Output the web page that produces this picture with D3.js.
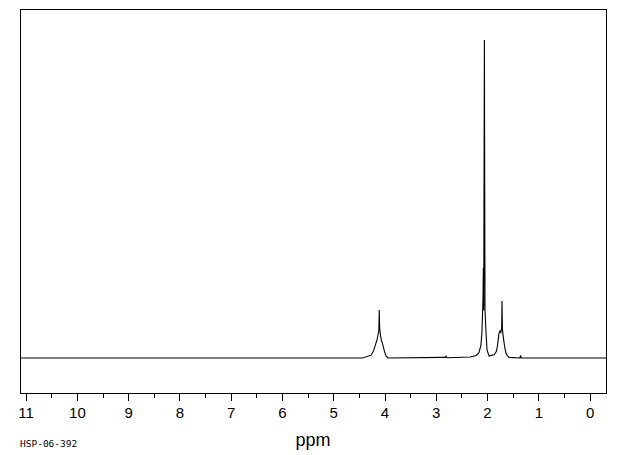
<!DOCTYPE html>
<html>
<head>
<meta charset="utf-8">
<script src="https://cdn.jsdelivr.net/npm/d3@7"></script>
<style>
  html, body { margin: 0; padding: 0; background: #fff; }
  svg { display: block; }
</style>
</head>
<body>
<svg id="chart" width="620" height="455"></svg>
<script>
// ---- data (ppm, relative intensity) ----
const ppmValues = [
  11.10, 4.42, 4.36, 4.25, 4.20, 4.16, 4.14, 4.12, 4.10, 4.093, 4.085, 4.07, 4.05, 4.03, 3.99, 3.96, 3.92,
  2.85, 2.80, 2.79, 2.77, 2.32, 2.20, 2.15, 2.11, 2.09, 2.07, 2.062, 2.055, 2.042, 2.03, 2.01, 1.99, 1.95,
  1.89, 1.85, 1.81, 1.79, 1.77, 1.76, 1.74, 1.72, 1.705, 1.698, 1.69, 1.68, 1.66, 1.64, 1.62, 1.60, 1.56,
  1.35, 1.335, 1.325, -0.33
];
const intensityValues = [
  0, 0, 0.3, 0.9, 2.4, 4.5, 5.5, 7.0, 8.8, 15.1, 9.4, 7.2, 5.5, 4.6, 2.0, 0.6, 0,
  0.2, 0.2, 0.6, 0.1, 0.3, 0.8, 1.6, 4.0, 8.0, 18.0, 28.3, 15.0, 100, 15.0, 8.0, 2.5, 0.6,
  0.9, 1.0, 2.0, 3.5, 6.0, 7.5, 8.5, 8.0, 9.5, 17.9, 9.0, 7.5, 5.0, 3.0, 1.5, 0.8, 0.2,
  0, 0.8, 0, 0
];
const majorTicks = [11, 10, 9, 8, 7, 6, 5, 4, 3, 2, 1, 0];
const minorTicks = [10.5, 9.5, 8.5, 7.5, 6.5, 5.5, 4.5, 3.5, 2.5, 1.5, 0.5];
const axisTitle = "ppm";
const sampleId = "HSP-06-392";

// ---- layout ----
const frame = { left: 20, top: 9, right: 606, bottom: 393 };
const svg = d3.select("#chart");

const x = d3.scaleLinear().domain([11.10, -0.33]).range([frame.left, frame.right]);
const y = d3.scaleLinear().domain([-11.0, 109.75]).range([frame.bottom, frame.top]);

const points = ppmValues.map((p, i) => ({ ppm: p, v: intensityValues[i] }));

// frame
svg.append("rect")
  .attr("x", frame.left + 0.5).attr("y", frame.top + 0.5)
  .attr("width", frame.right - frame.left).attr("height", frame.bottom - frame.top)
  .attr("fill", "none").attr("stroke", "#000").attr("stroke-width", 1)
  .attr("shape-rendering", "crispEdges");

// spectrum
const line = d3.line().x(d => x(d.ppm)).y(d => y(d.v));
svg.append("path")
  .datum(points)
  .attr("d", line)
  .attr("fill", "none")
  .attr("stroke", "#000")
  .attr("stroke-width", 1.1)
  .attr("stroke-linejoin", "miter");

// axes
const axisG = svg.append("g").attr("transform", `translate(0.5,${frame.bottom + 0.5})`);
const major = d3.axisBottom(x).tickValues(majorTicks).tickSize(7).tickPadding(7).tickFormat(d3.format("d"));
axisG.call(major);
axisG.select(".domain").remove();
axisG.selectAll(".tick line").attr("stroke", "#000").attr("shape-rendering", "crispEdges");
axisG.selectAll(".tick text")
  .attr("font-family", "'Liberation Sans', Arial, sans-serif")
  .attr("font-size", 15)
  .attr("fill", "#000");

const minorG = svg.append("g").attr("transform", `translate(0.5,${frame.bottom + 0.5})`);
minorG.call(d3.axisBottom(x).tickValues(minorTicks).tickSize(4).tickFormat(""));
minorG.select(".domain").remove();
minorG.selectAll(".tick line").attr("stroke", "#000").attr("shape-rendering", "crispEdges");

// titles
svg.append("text")
  .attr("x", 313).attr("y", 446)
  .attr("text-anchor", "middle")
  .attr("font-family", "'Liberation Sans', Arial, sans-serif")
  .attr("font-size", 18)
  .attr("fill", "#000")
  .text(axisTitle);

svg.append("text")
  .attr("x", 20).attr("y", 447)
  .attr("font-family", "'DejaVu Sans Mono', monospace")
  .attr("font-size", 9.5)
  .attr("fill", "#000")
  .text(sampleId);
</script>
</body>
</html>
